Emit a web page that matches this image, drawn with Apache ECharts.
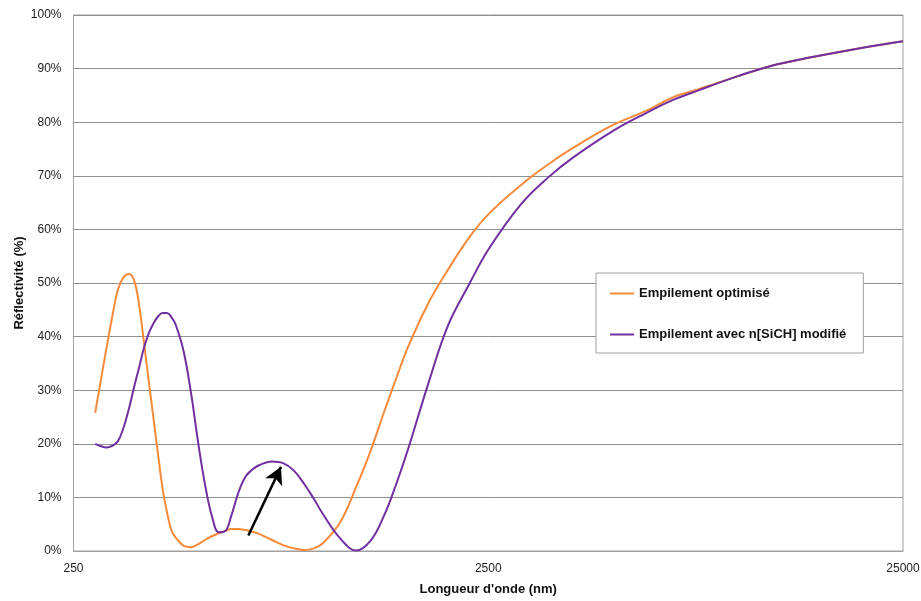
<!DOCTYPE html>
<html>
<head>
<meta charset="utf-8">
<script src="https://cdn.jsdelivr.net/npm/echarts@6/dist/echarts.min.js"></script>
<style>
  html, body { margin: 0; padding: 0; background: #fff; }
  #chart { width: 921px; height: 601px; }
</style>
</head>
<body>
<div id="chart"></div>
<script>
// longueurs d'onde (nm) et réflectivité (%)
const wavelengths = [282, 290, 300, 310, 320, 330, 340, 350, 360, 370, 380, 390, 400, 410, 420, 430, 440, 460, 480, 500,
    520, 540, 560, 580, 600, 625, 650, 675, 700, 750, 800, 850, 900, 950, 1000, 1100, 1200, 1300, 1400, 1500, 1600,
    1800, 2000, 2250, 2500, 3000, 3500, 4000, 5000, 6000, 7000, 8000, 10000, 12000, 15000, 20000, 25000];

const optimise = [25.8, 31.2, 37.7, 43.7, 48.8, 51.1, 51.7, 50.5, 45.8, 38.7, 31.5, 24.6, 17.9, 11.6, 7.3, 4.0, 2.6, 1.0, 0.7, 1.3,
    2.1, 2.8, 3.3, 3.7, 4.1, 4.1, 3.9, 3.6, 3.2, 2.1, 1.1, 0.5, 0.2, 0.5, 1.5, 5.4, 11.9, 18.6, 25.8, 32.2, 38.0,
    46.5, 52.5, 58.5, 62.8, 68.3, 72.2, 75.2, 79.5, 82.1, 84.7, 86.1, 88.6, 90.5, 92.1, 93.9, 95.1];

const modifie = [20.0, 19.6, 19.3, 19.6, 20.5, 23.0, 26.5, 30.6, 34.3, 38.0, 40.7, 42.5, 43.8, 44.4, 44.4, 43.7, 42.4, 37.5, 29.5, 20.0,
    12.0, 6.3, 3.5, 3.7, 6.5, 11.0, 13.9, 15.2, 16.0, 16.7, 16.4, 15.0, 12.5, 9.7, 6.8, 2.3, 0.1, 1.9, 6.5, 12.5, 18.9,
    31.7, 42.1, 49.8, 56.2, 64.7, 69.8, 73.4, 78.4, 81.7, 84.2, 85.9, 88.6, 90.5, 92.1, 93.9, 95.1];

const xTicks = [250, 2500, 25000];
const arrowFrom = [660, 2.9];
const arrowTo = [791, 15.7];

const chart = echarts.init(document.getElementById('chart'));
const font = 'Liberation Sans';

const option = {
    animation: false,
    backgroundColor: '#fff',
    textStyle: { fontFamily: font },
    grid: {
        left: 73.5, right: 18, top: 15, bottom: 50,
        outerBoundsMode: 'none',
        show: true, borderColor: '#a0a0a0', borderWidth: 1
    },
    legend: {
        orient: 'vertical',
        left: 596, top: 273,
        padding: [13, 17, 11, 14],
        itemGap: 26,
        itemWidth: 24,
        itemHeight: 2,
        icon: 'rect',
        backgroundColor: '#fff',
        borderColor: '#a0a0a0',
        borderWidth: 1,
        textStyle: { fontFamily: font, fontWeight: 'bold', fontSize: 13, color: '#111', lineHeight: 15 },
        data: ['Empilement optimisé', 'Empilement avec n[SiCH] modifié']
    },
    xAxis: {
        type: 'log',
        logBase: 10,
        min: 250,
        max: 25000,
        name: "Longueur d'onde (nm)",
        nameLocation: 'middle',
        nameGap: 32,
        nameMoveOverlap: false,
        nameTextStyle: { fontFamily: font, fontWeight: 'bold', fontSize: 13, color: '#111' },
        axisLine: { lineStyle: { color: '#a0a0a0' } },
        axisTick: { show: false },
        splitLine: { show: false },
        axisLabel: {
            customValues: xTicks,
            fontFamily: font, fontSize: 12, color: '#222', margin: 12,
            formatter: function (v) { return String(Math.round(v)); }
        }
    },
    yAxis: {
        type: 'value',
        min: 0,
        max: 100,
        interval: 10,
        name: 'Réflectivité (%)',
        nameLocation: 'middle',
        nameRotate: 90,
        nameGap: 48,
        nameMoveOverlap: false,
        nameTextStyle: { fontFamily: font, fontWeight: 'bold', fontSize: 13, color: '#111' },
        axisLine: { show: true, lineStyle: { color: '#a0a0a0' } },
        axisTick: { show: false },
        splitLine: { lineStyle: { color: '#8f8f8f' } },
        axisLabel: { fontFamily: font, fontSize: 12, color: '#222', margin: 12, formatter: '{value}%' }
    },
    series: [
        {
            name: 'Empilement optimisé',
            type: 'line',
            smooth: 0.4,
            symbol: 'none',
            color: '#F68B3C',
            lineStyle: { width: 2, color: '#F68B3C' },
            data: wavelengths.map((w, i) => [w, optimise[i]])
        },
        {
            name: 'Empilement avec n[SiCH] modifié',
            type: 'line',
            smooth: 0.4,
            symbol: 'none',
            color: '#7030A0',
            lineStyle: { width: 2, color: '#7030A0' },
            data: wavelengths.map((w, i) => [w, modifie[i]]),
            markLine: {
                silent: true,
                symbol: ['none', 'arrow'],
                symbolSize: [14, 17],
                label: { show: false },
                lineStyle: { color: '#000', width: 2.5, type: 'solid' },
                data: [[{ coord: arrowFrom }, { coord: arrowTo }]]
            }
        }
    ]
};

chart.setOption(option);
</script>
</body>
</html>
